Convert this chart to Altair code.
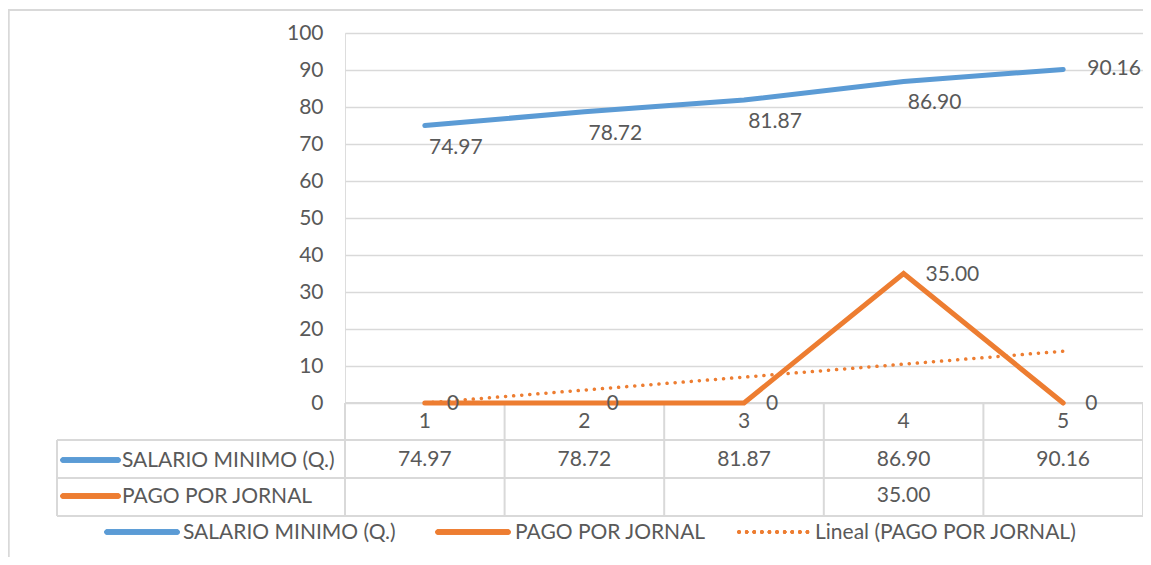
import altair as alt
import pandas as pd

categories = [1, 2, 3, 4, 5]
salario = [74.97, 78.72, 81.87, 86.90, 90.16]
pago = [0, 0, 0, 35, 0]
series_names = ["SALARIO MINIMO (Q.)", "PAGO POR JORNAL"]
trend_name = "Lineal (PAGO POR JORNAL)"
y_ticks = [0, 10, 20, 30, 40, 50, 60, 70, 80, 90, 100]

BLUE = "#5B9BD5"
ORANGE = "#ED7D31"
GRID = "#D9D9D9"
TXT = "#595959"
FONT = "Lato"
FS = 21

W, H = 798, 370

df_s = pd.DataFrame({"x": categories, "v": salario})
df_p = pd.DataFrame({"x": categories, "v": pago})
df_cat = pd.DataFrame({"x": categories})
df_bounds = pd.DataFrame({"x": [c - 0.5 for c in categories] + [categories[-1] + 0.5]})

xs = alt.Scale(domain=[0.5, 5.5], nice=False, zero=False)
ys = alt.Scale(domain=[0, 100], nice=False)

X = alt.X("x:Q", scale=xs, axis=None)
YAX = alt.Axis(values=y_ticks, tickCount=11, grid=True, gridColor=GRID, gridWidth=1.5,
               domain=False, ticks=False, labelPadding=22, labelOverlap=False,
               labelFont=FONT, labelFontSize=FS, labelColor=TXT)
Y = alt.Y("v:Q", scale=ys, title=None, axis=YAX)

base_axis = alt.Chart(df_s).mark_point(opacity=0).encode(x=X, y=Y)

line_s = alt.Chart(df_s).mark_line(color=BLUE, strokeWidth=5, strokeCap="round").encode(x=X, y=Y)

line_p = alt.Chart(df_p).mark_line(color=ORANGE, strokeWidth=5, strokeCap="round",
                                   strokeJoin="miter").encode(x=X, y=Y)

trend = alt.Chart(df_p).transform_regression("x", "v", extent=[1, 5]).mark_line(
    color=ORANGE, strokeWidth=3.5, strokeDash=[0.1, 8], strokeCap="round").encode(x=X, y=Y)

lab_s1 = alt.Chart(df_s).transform_filter("datum.x < 5").transform_calculate(
    t="format(datum.v, '.2f')").mark_text(
    font=FONT, fontSize=FS, color=TXT, dx=31, dy=22, align="center", baseline="middle").encode(
    x=X, y=Y, text="t:N")
lab_s2 = alt.Chart(df_s).transform_filter("datum.x == 5").transform_calculate(
    t="format(datum.v, '.2f')").mark_text(
    font=FONT, fontSize=FS, color=TXT, dx=24, dy=0, align="left", baseline="middle").encode(
    x=X, y=Y, text="t:N")
lab_p = alt.Chart(df_p).transform_calculate(
    t="datum.v == 0 ? '0' : format(datum.v, '.2f')").mark_text(
    font=FONT, fontSize=FS, color=TXT, dx=22, dy=1, align="left", baseline="middle").encode(
    x=X, y=Y, text="t:N")

cat_lab = alt.Chart(df_cat).mark_text(font=FONT, fontSize=FS, color=TXT, baseline="middle").encode(
    x=X, y=alt.value(389), text="x:N")

vdiv = alt.Chart(df_bounds).mark_rule(color=GRID, strokeWidth=2).encode(
    x=X, y=alt.value(370), y2=alt.value(483))

def hline(y, x0=-288, x1=W):
    return alt.Chart(df_cat).mark_rule(color=GRID, strokeWidth=2).encode(
        x=alt.value(x0), x2=alt.value(x1), y=alt.value(y))

hl = [hline(407), hline(445), hline(483), hline(370, 0, W)]
vleft = alt.Chart(df_cat).mark_rule(color=GRID, strokeWidth=2).encode(
    x=alt.value(-288), y=alt.value(407), y2=alt.value(483))

border_l = alt.Chart(df_cat).mark_rule(color=GRID, strokeWidth=1.5).encode(
    x=alt.value(-336.5), y=alt.value(-23), y2=alt.value(560))
border_t = alt.Chart(df_cat).mark_rule(color=GRID, strokeWidth=1.5).encode(
    x=alt.value(-337), x2=alt.value(W + 20), y=alt.value(-23))

tab_s = alt.Chart(df_s).transform_calculate(t="format(datum.v, '.2f')").mark_text(
    font=FONT, fontSize=FS, color=TXT, baseline="middle").encode(
    x=X, y=alt.value(427), text="t:N")
tab_p = alt.Chart(df_p).transform_filter("datum.v != 0").transform_calculate(
    t="format(datum.v, '.2f')").mark_text(
    font=FONT, fontSize=FS, color=TXT, baseline="middle").encode(
    x=X, y=alt.value(463), text="t:N")

def key(x0, x1, y, color, dash=None, width=5):
    kw = dict(color=color, strokeWidth=width, strokeCap="round")
    if dash:
        kw["strokeDash"] = dash
    return alt.Chart(df_cat).mark_rule(**kw).encode(
        x=alt.value(x0), x2=alt.value(x1), y=alt.value(y))

def label(x, y, text):
    return alt.Chart(pd.DataFrame({"t": [text]})).mark_text(
        font=FONT, fontSize=FS, color=TXT, align="left", baseline="middle").encode(
        x=alt.value(x), y=alt.value(y), text="t:N")

row_keys = [
    key(-282, -227, 427, BLUE), label(-223, 428, series_names[0]),
    key(-282, -227, 463, ORANGE), label(-223, 464, series_names[1]),
]
legend = [
    key(-238, -168, 499, BLUE), label(-162, 500, series_names[0]),
    key(93, 163, 499, ORANGE), label(170, 500, series_names[1]),
    key(394, 463, 499, ORANGE, dash=[0.1, 7.5], width=3.5), label(470, 500, trend_name),
]

chart = alt.layer(
    base_axis, border_l, border_t, *hl, vleft, vdiv, cat_lab, tab_s, tab_p,
    trend, line_s, line_p, lab_s1, lab_s2, lab_p, *row_keys, *legend,
).properties(
    width=W, height=H,
    padding={"left": 337, "top": 25, "right": 0, "bottom": 154},
    autosize=alt.AutoSizeParams(type="none"),
).configure_view(stroke=None).configure(background="white")

chart.save("out.html", embed_options={"renderer": "svg", "actions": False})
